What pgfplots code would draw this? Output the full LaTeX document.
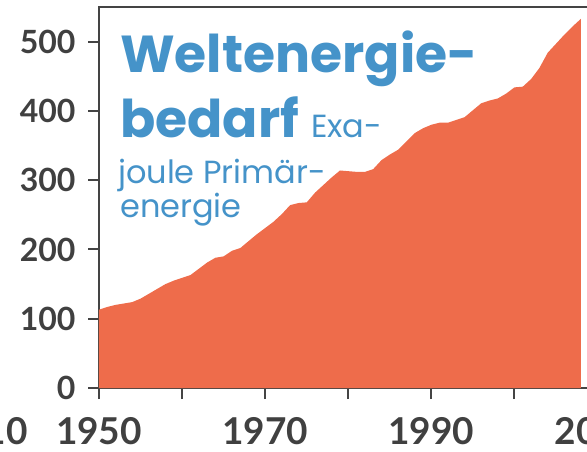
\documentclass[border=0pt]{standalone}
\usepackage{pgfplots}
\pgfplotsset{compat=1.18}
\usepackage{fontspec}
\setmainfont{Lato}
\newfontfamily\titlefont{Poppins}
\definecolor{fillc}{HTML}{EE6C4B}
\definecolor{titc}{HTML}{4593C9}
\definecolor{axc}{HTML}{444444}
\definecolor{txc}{HTML}{404040}
\pgfplotstableread{
year val
1950 113
1951 117
1952 120
1953 122
1954 124
1955 129
1956 136
1957 143
1958 150
1959 155
1960 159
1961 163
1962 172
1963 181
1964 188
1965 190
1966 198
1967 202
1968 212
1969 222
1970 231
1971 240
1972 251
1973 264
1974 267
1975 268
1976 282
1977 293
1978 304
1979 314
1980 313
1981 312
1982 312
1983 316
1984 329
1985 337
1986 344
1987 356
1988 368
1989 375
1990 380
1991 383
1992 383
1993 387
1994 391
1995 401
1996 411
1997 415
1998 418
1999 425
2000 434
2001 435
2002 446
2003 462
2004 484
2005 497
2006 510
2007 522
2008 533
}\energy
\begin{document}
\begin{tikzpicture}[x=1pt,y=1pt]
\useasboundingbox (0,0) rectangle (587,451);
\clip (0,0) rectangle (587,451);
\begin{axis}[
  at={(99pt,63pt)}, anchor=south west,
  scale only axis, width=515.2pt, height=381pt,
  xmin=1950, xmax=2012, ymin=0, ymax=550,
  axis line style={line width=2pt, color=axc},
  every tick/.style={line width=2pt, color=axc},
  tick align=outside, tick pos=left,
  major tick length=11pt,
  xtick={1950,1960,...,2010},
  xticklabels={1950,,1970,,1990,,2010},
  ytick={0,100,...,500},
  /pgf/number format/assume math mode=true,
  /pgf/number format/set thousands separator={},
  xticklabel style={font=\bfseries\fontsize{37}{37}\selectfont, text=txc, anchor=base, inner sep=0pt, yshift=-45pt},
  yticklabel style={font=\bfseries\fontsize{32}{32}\selectfont, text=txc, xshift=-9pt},
  clip=false,
]
\addplot[fill=fillc, draw=none] table[x=year, y=val] {\energy} \closedcycle;
\end{axis}
\node[anchor=base east, font=\bfseries\fontsize{37}{37}\selectfont, text=txc, inner sep=0pt] at (28,7) {2010};
\begin{scope}[every node/.style={anchor=base west, inner sep=0pt, text=titc}]
\node[font=\titlefont\bfseries\fontsize{52}{52}\selectfont] at (120,378) {Weltenergie-};
\node[font=\titlefont\bfseries\fontsize{52}{52}\selectfont] at (120,314) {bedarf};
\node[font=\titlefont\fontsize{32}{32}\selectfont] at (311,314) {Exa-};
\node[font=\titlefont\fontsize{32}{32}\selectfont] at (118,268) {joule Primär-};
\node[font=\titlefont\fontsize{32}{32}\selectfont] at (120,234) {energie};
\end{scope}
\end{tikzpicture}
\end{document}
